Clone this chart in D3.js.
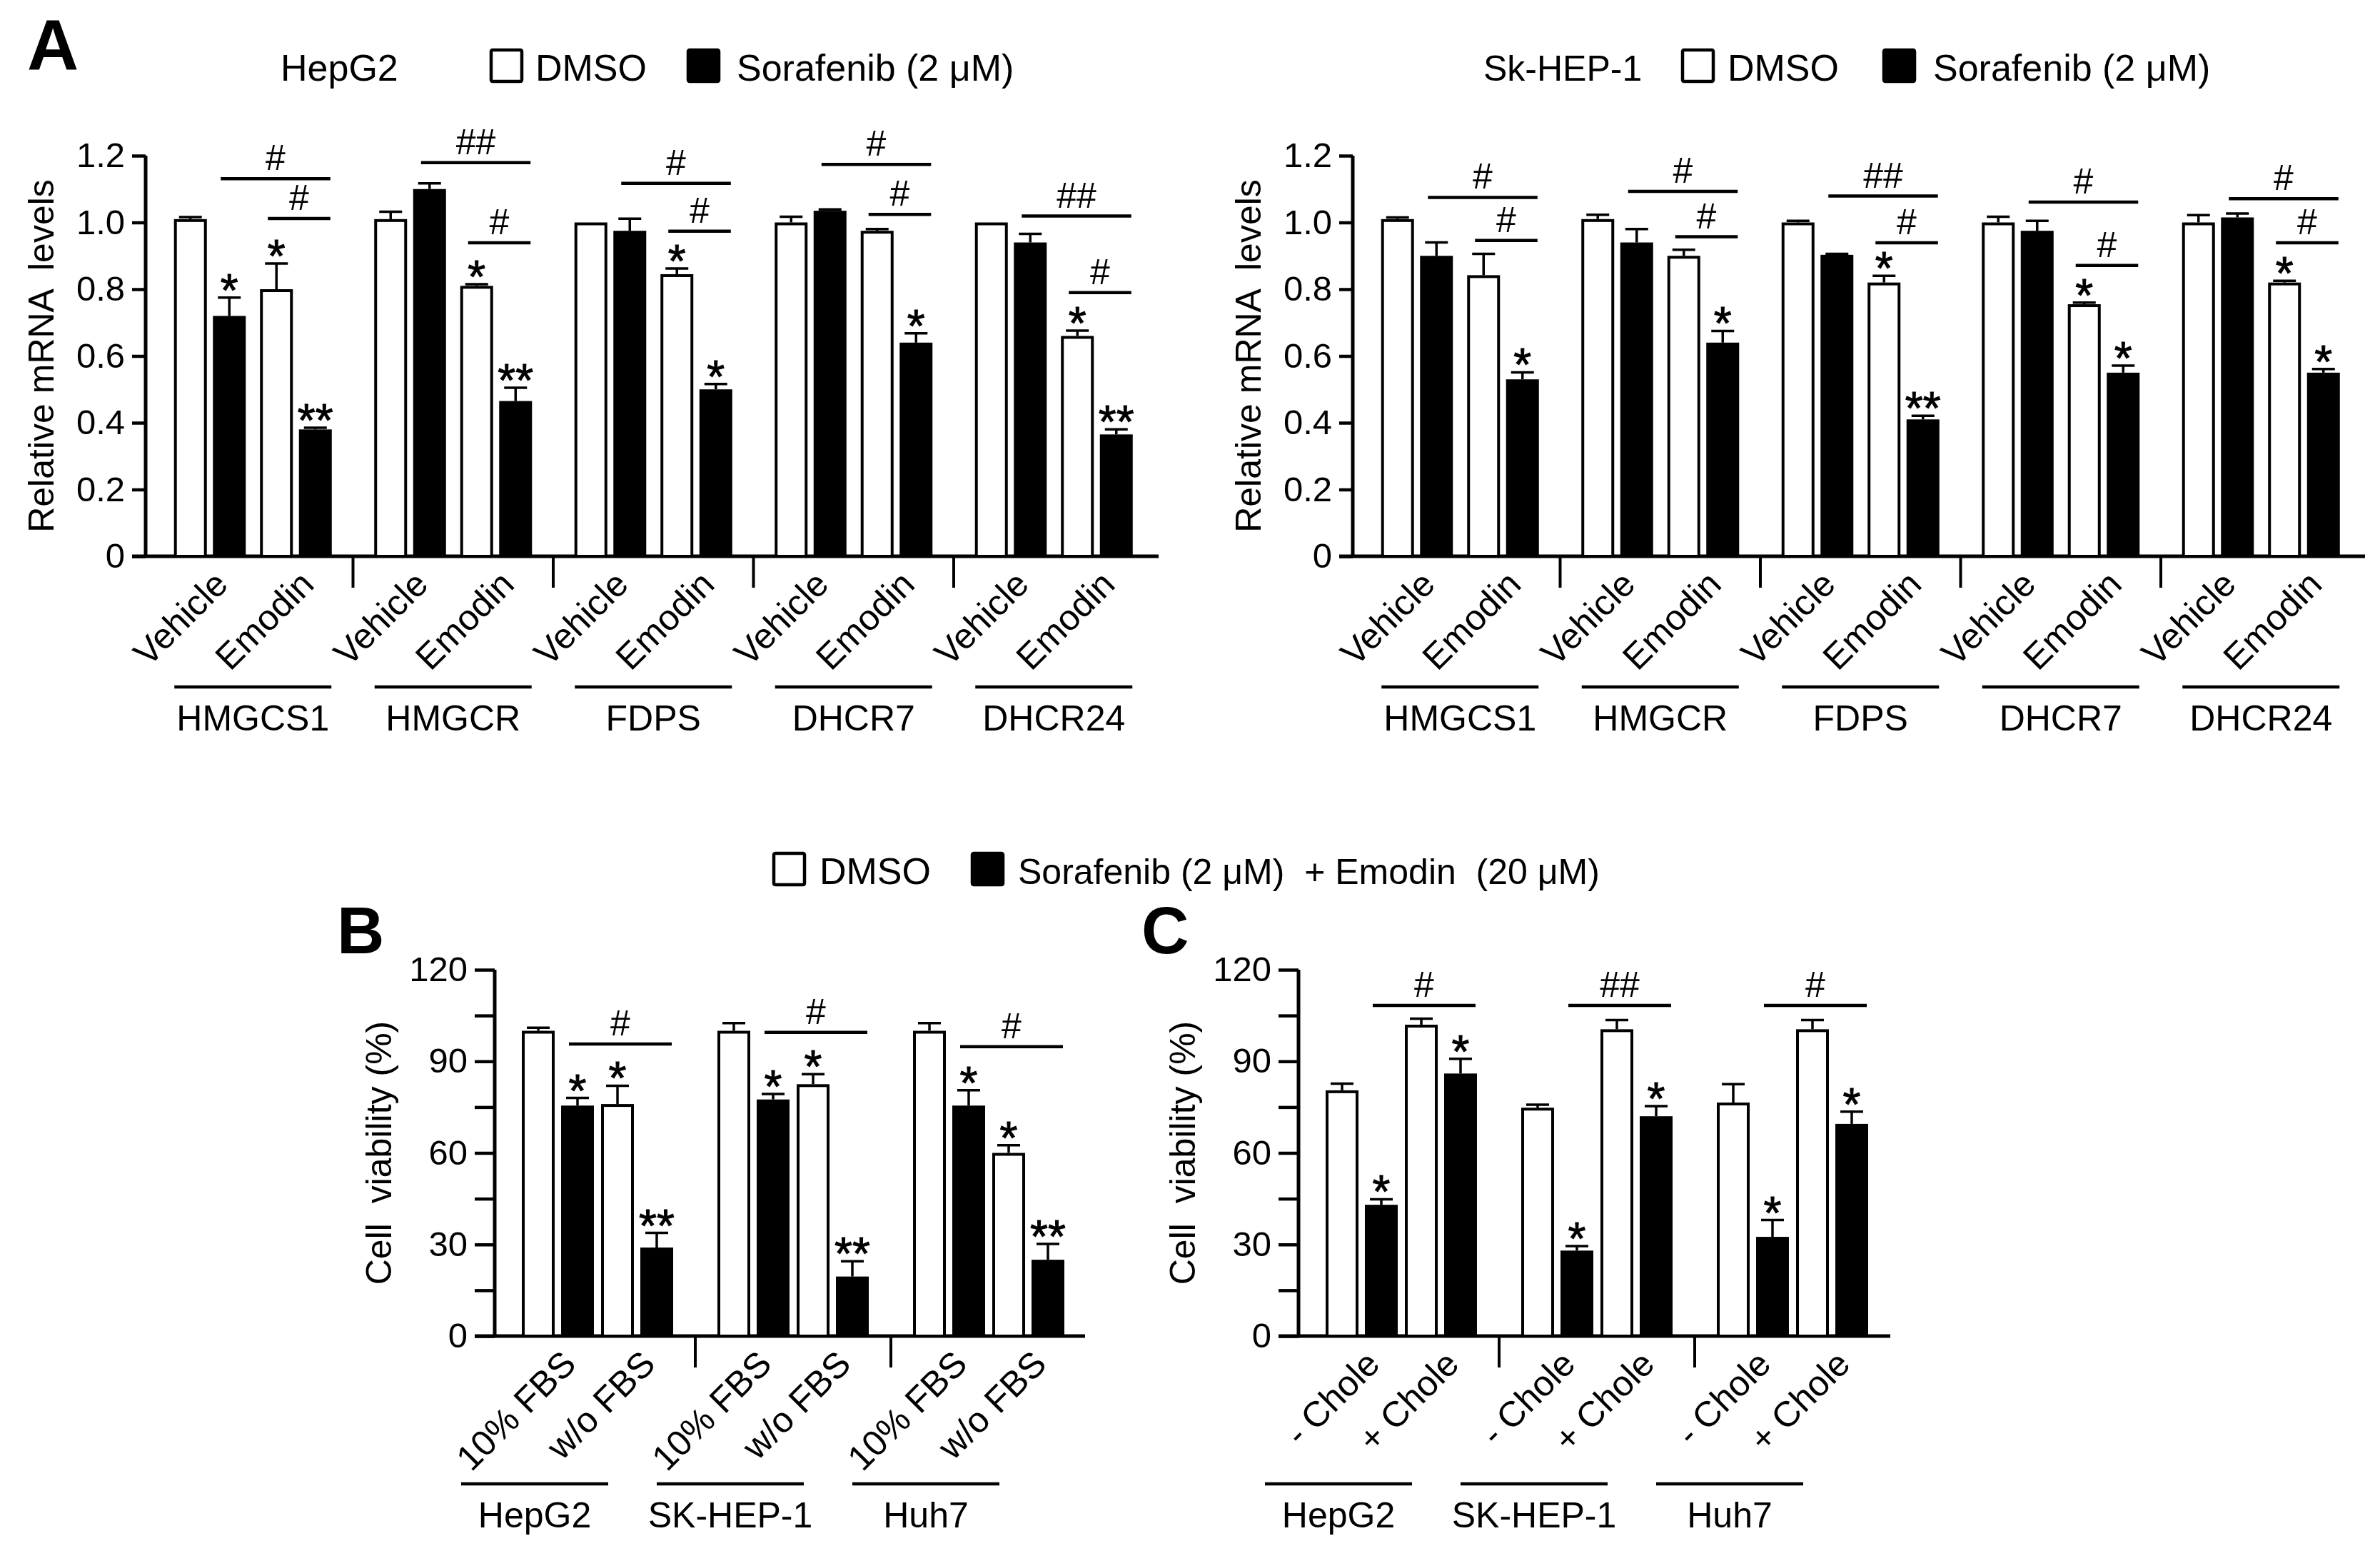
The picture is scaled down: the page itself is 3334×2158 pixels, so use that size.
<!DOCTYPE html>
<html>
<head>
<meta charset="utf-8">
<script src="https://cdn.jsdelivr.net/npm/d3@7"></script>
<style>
  body { margin: 0; background: #fff; }
  text { font-family: "Liberation Sans", Arial, sans-serif; fill: #000; }
</style>
</head>
<body>
<script>
// ---------- data ----------
const genes = ["HMGCS1", "HMGCR", "FDPS", "DHCR7", "DHCR24"];
const mrnaTreat = ["Vehicle", "Emodin"];
const drugs = ["DMSO", "Sorafenib"];
const mrnaTicks = [0, 0.2, 0.4, 0.6, 0.8, 1.0, 1.2];

// bars per gene: Vehicle-DMSO, Vehicle-Sorafenib, Emodin-DMSO, Emodin-Sorafenib
const hepg2Mean = [[1.01, 0.72, 0.80, 0.38], [1.01, 1.10, 0.81, 0.465], [1.00, 0.975, 0.845, 0.50], [1.00, 1.035, 0.975, 0.64], [1.00, 0.94, 0.66, 0.365]];
const hepg2Err  = [[0.006, 0.055, 0.077, 0.005], [0.022, 0.017, 0.005, 0.04], [0, 0.036, 0.017, 0.016], [0.017, 0.004, 0.005, 0.028], [0, 0.026, 0.016, 0.015]];
const hepg2Star = [["", "*", "*", "**"], ["", "", "*", "**"], ["", "", "*", "*"], ["", "", "", "*"], ["", "", "*", "**"]];
const hepg2LongY = [1.131, 1.179, 1.117, 1.174, 1.019];
const hepg2LongLbl = ["#", "##", "#", "#", "##"];
const hepg2ShortY = [1.012, 0.939, 0.974, 1.024, 0.79];
const hepg2ShortLbl = ["#", "#", "#", "#", "#"];

const skMean = [[1.01, 0.90, 0.842, 0.53], [1.01, 0.94, 0.90, 0.64], [1.00, 0.903, 0.82, 0.41], [1.00, 0.975, 0.755, 0.55], [1.00, 1.015, 0.82, 0.55]];
const skErr  = [[0.005, 0.04, 0.064, 0.021], [0.013, 0.04, 0.018, 0.035], [0.005, 0.003, 0.02, 0.011], [0.017, 0.03, 0.005, 0.021], [0.022, 0.012, 0.005, 0.011]];
const skStar = [["", "", "", "*"], ["", "", "", "*"], ["", "", "*", "**"], ["", "", "*", "*"], ["", "", "*", "*"]];
const skLongY = [1.075, 1.093, 1.079, 1.061, 1.071];
const skLongLbl = ["#", "#", "##", "#", "#"];
const skShortY = [0.946, 0.957, 0.939, 0.871, 0.939];
const skShortLbl = ["#", "#", "#", "#", "#"];

const cells = ["HepG2", "SK-HEP-1", "Huh7"];
const viabTicks = [0, 15, 30, 45, 60, 75, 90, 105, 120];
const serum = ["10% FBS", "w/o FBS"];
const serumMean = [[100, 75.5, 76, 29], [100, 77.5, 82.5, 19.5], [100, 75.5, 60, 25]];
const serumErr  = [[1, 2.5, 6, 4.8], [2.5, 1.8, 3.3, 5], [2.5, 5, 2.5, 5.2]];
const serumStar = [["", "*", "*", "**"], ["", "*", "*", "**"], ["", "*", "*", "**"]];
const serumLongY = [95.7, 99.5, 94.8];
const serumLongLbl = ["#", "#", "#"];

const chole = ["- Chole", "+ Chole"];
const choleMean = [[80.5, 43, 102, 86], [74.8, 28, 100.5, 72], [76.5, 32.5, 100.5, 69.5]];
const choleErr  = [[2.2, 1.8, 2, 4.8], [1, 1.5, 3, 3.3], [6, 5.5, 3, 4]];
const choleStar = [["", "*", "", "*"], ["", "*", "", "*"], ["", "*", "", "*"]];
const choleLongY = [108.3, 108.3, 108.3];
const choleLongLbl = ["#", "##", "#"];

// ---------- drawing ----------
const W = 3334, H = 2158;
const svg = d3.select("body").append("svg")
    .attr("width", W)
    .attr("height", H)
    .attr("viewBox", `0 0 ${W} ${H}`);

const fill = { DMSO: "#fff", Sorafenib: "#000" };

function panel(o) {
    const g = svg.append("g");
    const y = d3.scaleLinear().domain(o.yDomain).range(o.yRange);
    const x = d3.scaleBand().domain(o.groups).range(o.xRange);
    const half = o.subHalf;
    const sub = d3.scaleBand().domain(o.treat).range([-half, half]);
    const inner = d3.scaleBand().domain(drugs).range([0, sub.bandwidth()])
        .paddingInner(o.padIn).paddingOuter(o.padOut);
    const y0 = y(0);
    const bw = inner.bandwidth();

    const barX = (gi, k) => x(o.groups[gi]) + x.bandwidth() / 2 +
        sub(o.treat[Math.floor(k / 2)]) + inner(drugs[k % 2]);

    // y axis
    const yAxis = g.append("g")
        .attr("transform", `translate(${o.xRange[0] - o.axisGap},0)`)
        .call(d3.axisLeft(y).tickValues(o.ticks).tickSize(o.tickLen).tickSizeOuter(0)
            .tickPadding(10).tickFormat(o.tickFmt));
    yAxis.select(".domain").attr("stroke-width", 5).attr("d", `M0,${y(o.yDomain[1])}V${y0}`);
    yAxis.selectAll(".tick line").attr("stroke-width", 4.5);
    yAxis.selectAll(".tick text").attr("font-size", 49).attr("font-family", '"Liberation Sans", Arial, sans-serif');

    // x axis line
    const axX = o.xRange[0] - o.axisGap;
    g.append("line")
        .attr("x1", axX - o.tickLen).attr("x2", o.xEnd)
        .attr("y1", y0).attr("y2", y0)
        .attr("stroke", "#000").attr("stroke-width", 5);

    // group separators
    o.groups.slice(1).forEach(d => {
        g.append("line")
            .attr("x1", x(d)).attr("x2", x(d))
            .attr("y1", y0).attr("y2", y0 + 44)
            .attr("stroke", "#000").attr("stroke-width", 4);
    });

    // y label
    g.append("text")
        .attr("transform", `translate(${axX - o.labelGap},${(y(o.yDomain[1]) + y0) / 2}) rotate(-90)`)
        .attr("text-anchor", "middle")
        .attr("font-size", 50)
        .style("white-space", "pre")
        .text(o.yLabel);

    o.groups.forEach((grp, gi) => {
        const means = o.mean[gi];
        means.forEach((m, k) => {
            const bx = barX(gi, k);
            const top = y(m);
            // error bar
            const e = o.err[gi][k];
            const et = y(m + e);
            if (e > 0) {
                g.append("line")
                    .attr("x1", bx + bw / 2).attr("x2", bx + bw / 2)
                    .attr("y1", top).attr("y2", et)
                    .attr("stroke", "#000").attr("stroke-width", 3.5);
                g.append("line")
                    .attr("x1", bx + bw / 2 - 16).attr("x2", bx + bw / 2 + 16)
                    .attr("y1", et).attr("y2", et)
                    .attr("stroke", "#000").attr("stroke-width", 3.5);
            }
            g.append("rect")
                .attr("x", bx + 2).attr("y", top + 2)
                .attr("width", bw - 4).attr("height", y0 - top - 2)
                .attr("fill", fill[drugs[k % 2]])
                .attr("stroke", "#000").attr("stroke-width", 4);
            const s = o.star[gi][k];
            if (s) {
                g.append("text")
                    .attr("x", bx + bw / 2).attr("y", Math.min(top, et) + 12)
                    .attr("text-anchor", "middle")
                    .attr("font-size", 64)
                    .attr("stroke", "#000").attr("stroke-width", 1)
                    .text(s);
            }
        });

        // significance lines
        const brackets = [[1, o.longY[gi], o.longLbl[gi]]];
        if (o.shortY) brackets.push([2, o.shortY[gi], o.shortLbl[gi]]);
        brackets.forEach(([from, val, lbl]) => {
            const x1 = barX(gi, from) + bw / 2 - 12;
            const x2 = barX(gi, 3) + bw - 2;
            const ly = y(val);
            g.append("line")
                .attr("x1", x1).attr("x2", x2)
                .attr("y1", ly).attr("y2", ly)
                .attr("stroke", "#000").attr("stroke-width", 4.5);
            g.append("text")
                .attr("x", (x1 + x2) / 2).attr("y", ly - 12)
                .attr("text-anchor", "middle")
                .attr("font-size", 50)
                .text(lbl);
        });

        // rotated treatment labels
        o.treat.forEach(t => {
            const cx = x(grp) + x.bandwidth() / 2 + sub(t) + sub.bandwidth() / 2;
            g.append("text")
                .attr("transform", `translate(${cx + 28},${y0 + 42}) rotate(-45)`)
                .attr("text-anchor", "end")
                .attr("font-size", 50)
                .text(t);
        });

        // group underline + name
        const gc = x(grp) + x.bandwidth() / 2 + o.nameShift;
        g.append("line")
            .attr("x1", gc - o.lineHalf).attr("x2", gc + o.lineHalf)
            .attr("y1", o.lineY).attr("y2", o.lineY)
            .attr("stroke", "#000").attr("stroke-width", 4.5);
        g.append("text")
            .attr("x", gc).attr("y", o.lineY + 61)
            .attr("text-anchor", "middle")
            .attr("font-size", 50)
            .text(grp);
    });
}

function legend(items, baseline) {
    items.forEach(it => {
        if (it.box) {
            svg.append("rect")
                .attr("x", it.x + 2).attr("y", baseline - 43)
                .attr("width", 43).attr("height", 44)
                .attr("rx", 2)
                .attr("fill", fill[it.box])
                .attr("stroke", "#000").attr("stroke-width", 4.5);
        } else {
            svg.append("text")
                .attr("x", it.x).attr("y", baseline)
                .attr("font-size", it.size || 52)
                .style("white-space", "pre")
                .text(it.text);
        }
    });
}

const fmtMrna = d => d === 0 ? "0" : d.toFixed(1);
const fmtViab = d => d % 30 === 0 ? d : "";

const mrnaBase = {
    groups: genes, treat: mrnaTreat, yDomain: [0, 1.2], yRange: [779, 218],
    ticks: mrnaTicks, tickFmt: fmtMrna, tickLen: 19, axisGap: 10,
    subHalf: 120.5, padIn: 0.156, padOut: 0.183,
    labelGap: 129, yLabel: "Relative mRNA  levels",
    nameShift: 0, lineHalf: 110, lineY: 962
};

panel(Object.assign({}, mrnaBase, {
    xRange: [214, 1616.5], xEnd: 1623,
    mean: hepg2Mean, err: hepg2Err, star: hepg2Star,
    longY: hepg2LongY, longLbl: hepg2LongLbl, shortY: hepg2ShortY, shortLbl: hepg2ShortLbl
}));
panel(Object.assign({}, mrnaBase, {
    xRange: [1905, 3307.5], xEnd: 3313,
    mean: skMean, err: skErr, star: skStar,
    longY: skLongY, longLbl: skLongLbl, shortY: skShortY, shortLbl: skShortLbl
}));

const viabBase = {
    groups: cells, yDomain: [0, 120], yRange: [1871, 1358],
    ticks: viabTicks, tickFmt: fmtViab, tickLen: 28, axisGap: 7,
    subHalf: 111, padIn: 0.1636, padOut: 0.091,
    labelGap: 145, yLabel: "Cell  viability (%)",
    nameShift: -88, lineHalf: 103, lineY: 2078
};
panel(Object.assign({}, viabBase, {
    treat: serum, xRange: [700, 1522], xEnd: 1520,
    mean: serumMean, err: serumErr, star: serumStar,
    longY: serumLongY, longLbl: serumLongLbl
}));
panel(Object.assign({}, viabBase, {
    treat: chole, xRange: [1826, 2648], xEnd: 2648,
    mean: choleMean, err: choleErr, star: choleStar,
    longY: choleLongY, longLbl: choleLongLbl
}));

// legends
legend([
    { x: 393, text: "HepG2" },
    { x: 686, box: "DMSO" }, { x: 750, text: "DMSO" },
    { x: 962, box: "Sorafenib" }, { x: 1032, text: "Sorafenib (2 μM)" }
], 113);
legend([
    { x: 2078, text: "Sk-HEP-1", size: 50 },
    { x: 2355, box: "DMSO" }, { x: 2420, text: "DMSO" },
    { x: 2637, box: "Sorafenib" }, { x: 2708, text: "Sorafenib (2 μM)" }
], 113);
legend([
    { x: 1082, box: "DMSO" }, { x: 1148, text: "DMSO" },
    { x: 1360, box: "Sorafenib" }, { x: 1426, text: "Sorafenib (2 μM)  + Emodin  (20 μM)", size: 50 }
], 1238);

// panel letters
[["A", 38, 98, 100], ["B", 472, 1335, 92], ["C", 1599, 1335, 92]].forEach(([t, px, py, fs]) => {
    svg.append("text")
        .attr("x", px).attr("y", py)
        .attr("font-size", fs)
        .attr("font-weight", "bold")
        .text(t);
});
</script>
</body>
</html>
